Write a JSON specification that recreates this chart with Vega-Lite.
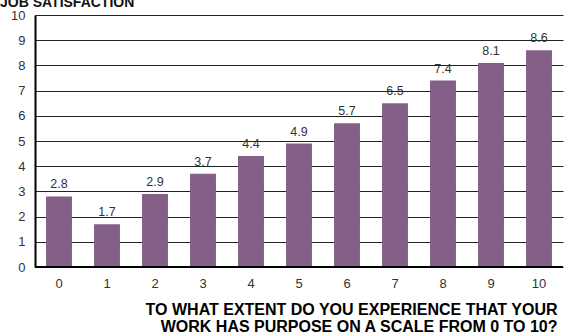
{
  "$schema": "https://vega.github.io/schema/vega-lite/v6.json",
  "autosize": {"type": "none"},
  "padding": {"left": 35, "top": 15, "right": 1, "bottom": 69},
  "width": 528,
  "height": 252,
  "background": "white",
  "title": {
    "text": "JOB SATISFACTION",
    "anchor": "start",
    "frame": "group",
    "font": "Liberation Sans",
    "fontSize": 14,
    "fontWeight": "bold",
    "color": "#111111",
    "baseline": "alphabetic",
    "offset": 4,
    "dy": 16,
    "dx": -35
  },
  "config": {
    "view": {"stroke": null},
    "font": "Liberation Sans"
  },
  "data": {
    "values": [
      {"score": "0", "value": 2.8},
      {"score": "1", "value": 1.7},
      {"score": "2", "value": 2.9},
      {"score": "3", "value": 3.7},
      {"score": "4", "value": 4.4},
      {"score": "5", "value": 4.9},
      {"score": "6", "value": 5.7},
      {"score": "7", "value": 6.5},
      {"score": "8", "value": 7.4},
      {"score": "9", "value": 8.1},
      {"score": "10", "value": 8.6}
    ]
  },
  "encoding": {
    "x": {
      "field": "score",
      "type": "ordinal",
      "sort": null,
      "scale": {"paddingInner": 0.46, "paddingOuter": 0.23},
      "axis": {
        "title": ["TO WHAT EXTENT DO YOU EXPERIENCE THAT YOUR", "WORK HAS PURPOSE ON A SCALE FROM 0 TO 10?"],
        "titleFont": "Liberation Sans",
        "titleFontSize": 16,
        "titleFontWeight": "bold",
        "titleColor": "#000000",
        "titleAnchor": "end",
        "titleAlign": "right",
        "titleBaseline": "top",
        "titleX": 522,
        "titleY": 34,
        "titleLineHeight": 17,
        "labelAngle": 0,
        "labelFontSize": 13,
        "labelColor": "#333333",
        "labelPadding": 10,
        "ticks": false,
        "domain": false
      }
    },
    "y": {
      "field": "value",
      "type": "quantitative",
      "scale": {"domain": [0, 10], "nice": false},
      "axis": {
        "title": null,
        "values": [0, 1, 2, 3, 4, 5, 6, 7, 8, 9, 10],
        "labelFontSize": 13,
        "labelColor": "#333333",
        "labelPadding": 10,
        "ticks": false,
        "domain": true,
        "domainColor": "#000000",
        "domainWidth": 2,
        "grid": true,
        "gridColor": "#222222",
        "gridWidth": 1.2
      }
    }
  },
  "layer": [
    {
      "mark": {"type": "bar", "color": "#845f88"}
    },
    {
      "mark": {"type": "rule", "color": "#000000", "strokeWidth": 2},
      "encoding": {"y": {"datum": 0}, "x": null}
    },
    {
      "mark": {"type": "text", "baseline": "bottom", "dy": -5, "fontSize": 12.5, "color": "#333333", "font": "Liberation Sans"},
      "encoding": {"text": {"field": "value", "type": "quantitative", "format": ".1f"}}
    }
  ]
}
